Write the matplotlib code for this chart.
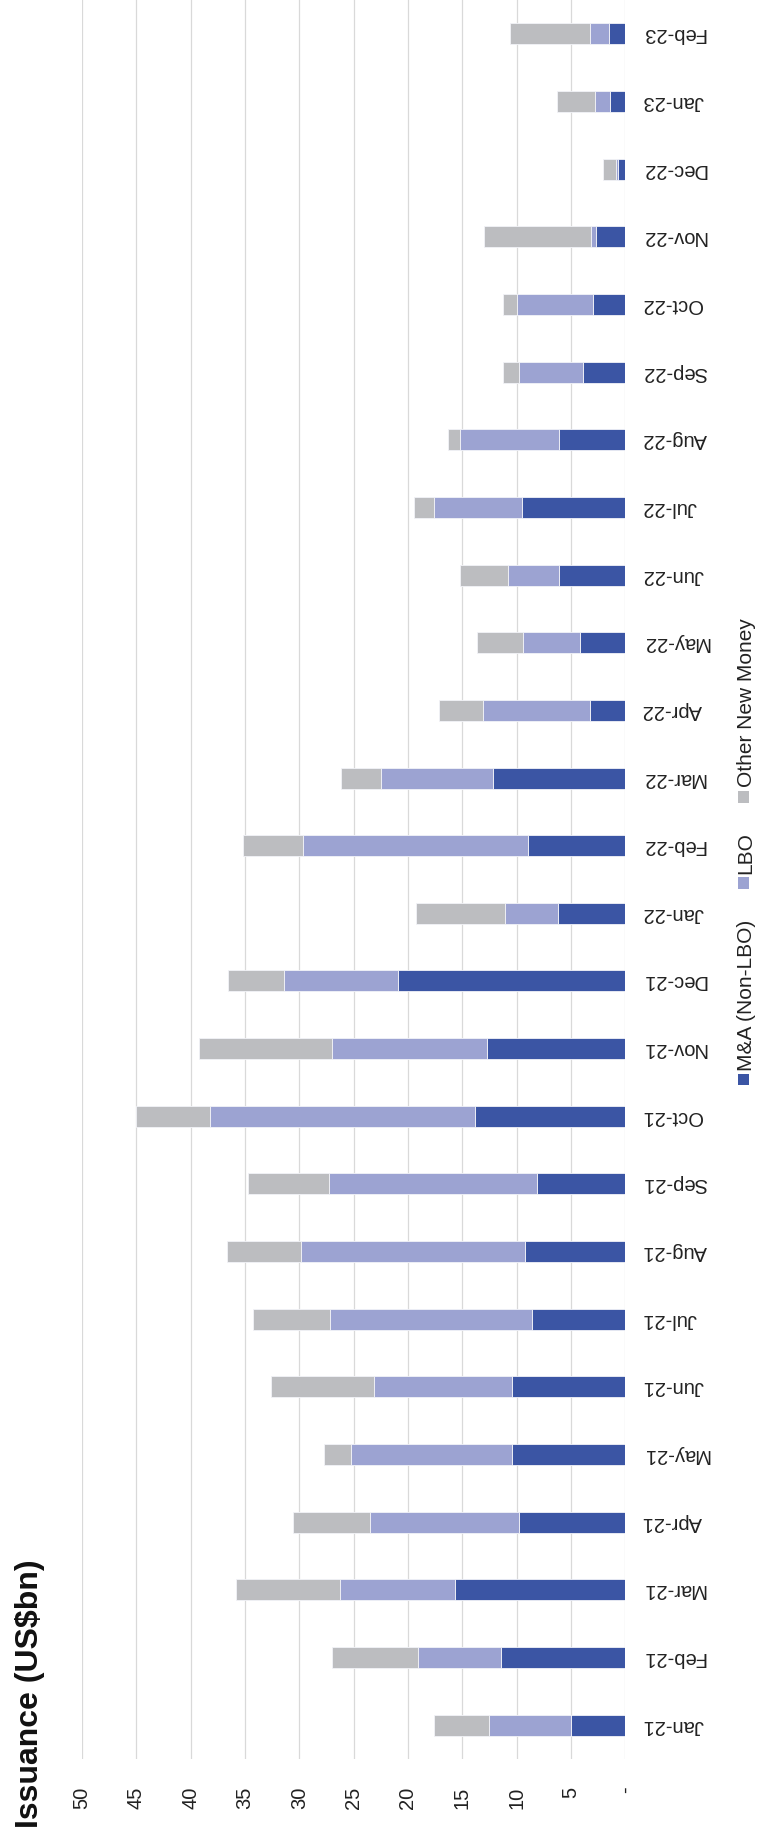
import matplotlib
matplotlib.use("Agg")
import matplotlib.pyplot as plt
from matplotlib.patches import Rectangle
import numpy as np

plt.rcParams['font.family'] = ['Liberation Sans', 'DejaVu Sans']

months = ["Jan-21", "Feb-21", "Mar-21", "Apr-21", "May-21", "Jun-21", "Jul-21",
          "Aug-21", "Sep-21", "Oct-21", "Nov-21", "Dec-21", "Jan-22", "Feb-22",
          "Mar-22", "Apr-22", "May-22", "Jun-22", "Jul-22", "Aug-22", "Sep-22",
          "Oct-22", "Nov-22", "Dec-22", "Jan-23", "Feb-23"]
mna = [5.0, 11.4, 15.7, 9.8, 10.4, 10.4, 8.6, 9.2, 8.1, 13.8, 12.7, 20.9, 6.2,
       9.0, 12.2, 3.25, 4.2, 6.1, 9.5, 6.1, 3.9, 3.0, 2.7, 0.7, 1.4, 1.5]
lbo = [7.5, 7.7, 10.6, 13.7, 14.8, 12.7, 18.6, 20.6, 19.2, 24.4, 14.3, 10.5, 4.9,
       20.7, 10.3, 9.8, 5.2, 4.7, 8.1, 9.1, 5.9, 7.0, 0.5, 0.2, 1.4, 1.75]
other = [5.1, 7.9, 9.55, 7.1, 2.5, 9.5, 7.1, 6.9, 7.4, 6.85, 12.25, 5.2, 8.15,
         5.45, 3.7, 4.1, 4.25, 4.45, 1.8, 1.1, 1.5, 1.25, 9.8, 1.15, 3.5, 7.4]
series_names = ["M&A (Non-LBO)", "LBO", "Other New Money"]
value_ticks = [0, 5, 10, 15, 20, 25, 30, 35, 40, 45, 50]
value_tick_labels = ["-", "5", "10", "15", "20", "25", "30", "35", "40", "45", "50"]
title = "Issuance (US$bn)"

colors = ["#3b55a4", "#9ca3d2", "#bcbdc0"]

W, H = 757, 1834
fig = plt.figure(figsize=(W / 100, H / 100), dpi=100)


def fx(px):
    return px / W


def fy(py):
    return 1 - py / H


ax = fig.add_axes([fx(82), fy(1759), fx(625.3) - fx(82), 1 - fy(1759)])

y = np.arange(len(months))
left = np.zeros(len(months))
for vals, col, name in zip([mna, lbo, other], colors, series_names):
    ax.barh(y, vals, left=left, height=0.31, color=col, edgecolor="#f2f3f8",
            linewidth=0.6, label=name, zorder=3)
    left = left + np.array(vals)

ax.set_xlim(50, 0)
ax.set_ylim(-0.5, len(months) - 0.5)
ax.set_xticks(value_ticks)
ax.set_xticklabels(value_tick_labels, rotation=90, fontsize=14.5, color="#222222")
ax.tick_params(axis="x", length=0, pad=20)
ax.yaxis.tick_right()
ax.set_yticks(y)
ax.set_yticklabels(months, rotation=180, fontsize=14.5, color="#222222")
ax.tick_params(axis="y", length=0, pad=12)
for lab in ax.get_yticklabels():
    lab.set_ha("left")
    lab.set_va("center")
ax.grid(axis="x", color="#d9d9d9", linewidth=0.9, zorder=0)
ax.grid(axis="y", visible=False)
for s in ax.spines.values():
    s.set_visible(False)

# title (rotated)
fig.text(fx(30), fy(1694), title, rotation=90, ha="center", va="center",
         fontsize=23, fontweight="bold", color="#111111")

# legend (rotated, manual)
leg_square_y = [1079, 883, 797]
leg_text_y = [1071, 874, 787]
for name, col, sy, ty in zip(series_names, colors, leg_square_y, leg_text_y):
    fig.patches.append(Rectangle((fx(738), fy(sy + 5.5)), fx(10.5), fy(sy - 5.5) - fy(sy + 5.5),
                                 transform=fig.transFigure, facecolor=col, edgecolor="none"))
    fig.text(fx(746), fy(ty), name, rotation=90, ha="center", va="bottom",
             fontsize=15, color="#222222")

fig.savefig("out.png", dpi=100, facecolor="white")
